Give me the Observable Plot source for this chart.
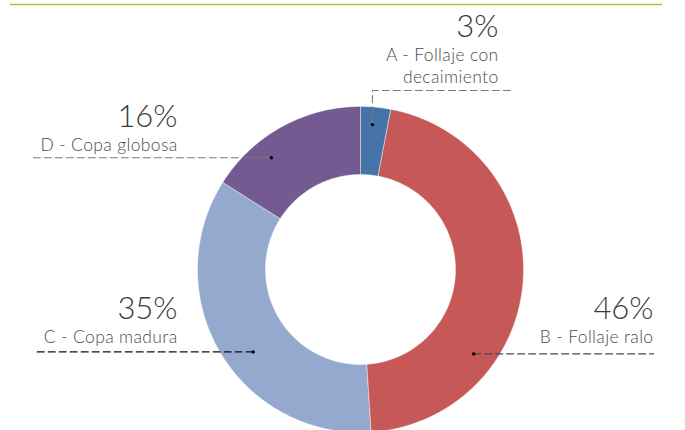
<!DOCTYPE html>
<html>
<head>
<meta charset="utf-8">
<script src="https://cdn.jsdelivr.net/npm/d3@7"></script>
<script src="https://cdn.jsdelivr.net/npm/@observablehq/plot@0.6"></script>
<style>
  html, body { margin: 0; padding: 0; background: #fff; }
  #chart svg { display: block; }
  #chart g.cat-labels { letter-spacing: 0.35px; }
</style>
</head>
<body>
<div id="chart"></div>
<script>
// Crown condition categories and their share of trees (%)
const categories = [
  "A - Follaje con\ndecaimiento",
  "B - Follaje ralo",
  "C - Copa madura",
  "D - Copa globosa"
];
const shares = [3, 46, 35, 16];
const sliceColors = ["#4673A8", "#C75858", "#95A9CE", "#735B91"];

// Canvas and ring geometry (pixels)
const W = 685, H = 430;
const ring = { cx: 360, cy: 269, outer: 163, inner: 95 };

// Leader-line and label placement for each slice:
// along = position inside the slice's angular span (0..1), depth = fraction of outer radius
const callouts = [
  { along: 0.435, depth: 0.892, bendY: 90, endX: 510, textX: 498, textY: 82, tone: "#7a7a7a" },
  { along: 0.70, depth: 0.866, endX: 653, textX: 653, textY: 342, tone: "#4a4a4a" },
  { along: 0.445, depth: 0.83, endX: 33, textX: 177, textY: 342, tone: "#111111" },
  { along: 0.33, depth: 0.877, endX: 33, textX: 177, textY: 150, tone: "#7a7a7a" }
];

const total = d3.sum(shares);
const cumulative = d3.cumsum(shares);

// Polar helper: angle measured clockwise from 12 o'clock
const polar = (a, r) => ({ x: ring.cx + r * Math.sin(a), y: ring.cy - r * Math.cos(a) });

// Ring slices as closed polygons
const slicePoints = [];
shares.forEach((v, i) => {
  const a0 = ((cumulative[i] - v) / total) * 2 * Math.PI;
  const a1 = (cumulative[i] / total) * 2 * Math.PI;
  const n = Math.max(2, Math.ceil((a1 - a0) / (Math.PI / 360)));
  for (let k = 0; k <= n; k++) slicePoints.push({ key: categories[i], ...polar(a0 + (a1 - a0) * k / n, ring.outer) });
  for (let k = n; k >= 0; k--) slicePoints.push({ key: categories[i], ...polar(a0 + (a1 - a0) * k / n, ring.inner) });
});

// Leader anchors on each slice
const anchors = shares.map((v, i) => {
  const a0 = ((cumulative[i] - v) / total) * 2 * Math.PI;
  const a1 = (cumulative[i] / total) * 2 * Math.PI;
  const c = callouts[i];
  return { key: categories[i], ...polar(a0 + (a1 - a0) * c.along, ring.outer * c.depth) };
});

// Leader polylines: straight horizontal, or up-then-across for the thin slice
const leaderMarks = anchors.map((p, i) => {
  const c = callouts[i];
  const pts = c.bendY != null
    ? [{ x: p.x, y: p.y }, { x: p.x, y: c.bendY }, { x: c.endX, y: c.bendY }]
    : [{ x: p.x, y: p.y }, { x: c.endX, y: p.y }];
  return Plot.line(pts, { x: "x", y: "y", stroke: c.tone, strokeWidth: 1.1, strokeDasharray: "7,4" });
});

const labelRows = categories.map((name, i) => ({
  name,
  pct: `${shares[i]}%`,
  x: callouts[i].textX,
  y: callouts[i].textY,
  yPct: callouts[i].textY - 22 * (name.split("\n").length - 1) - 23.5
}));

const chart = Plot.plot({
  width: W,
  height: H,
  margin: 0,
  x: { domain: [0, W], range: [0, W], axis: null },
  y: { domain: [0, H], range: [0, H], axis: null },
  color: { domain: categories, range: sliceColors },
  style: { fontFamily: "Lato, 'Open Sans', sans-serif", background: "#fff" },
  marks: [
    // Top accent rule
    Plot.ruleY([4], { x1: 10, x2: 662, stroke: "#9CCB3B", strokeWidth: 1.5 }),
    Plot.line(slicePoints, {
      x: "x", y: "y", z: "key", fill: "key",
      stroke: "#ffffff", strokeWidth: 0.6, strokeOpacity: 0.7, curve: "linear-closed"
    }),
    ...leaderMarks,
    Plot.dot(anchors, { x: "x", y: "y", r: 1.7, fill: "#000", stroke: null }),
    Plot.text(labelRows, {
      x: "x", y: "y", text: "name", textAnchor: "end", lineAnchor: "bottom",
      lineHeight: 22 / 17.5, fontSize: 17.5, fontWeight: 300, fill: "#4d4d4d",
      className: "cat-labels"
    }),
    Plot.text(labelRows, {
      x: "x", y: "yPct", text: "pct", textAnchor: "end", lineAnchor: "bottom",
      fontSize: 31, fontWeight: 300, fill: "#3a3a3a"
    })
  ]
});

document.getElementById("chart").appendChild(chart);
</script>
</body>
</html>
